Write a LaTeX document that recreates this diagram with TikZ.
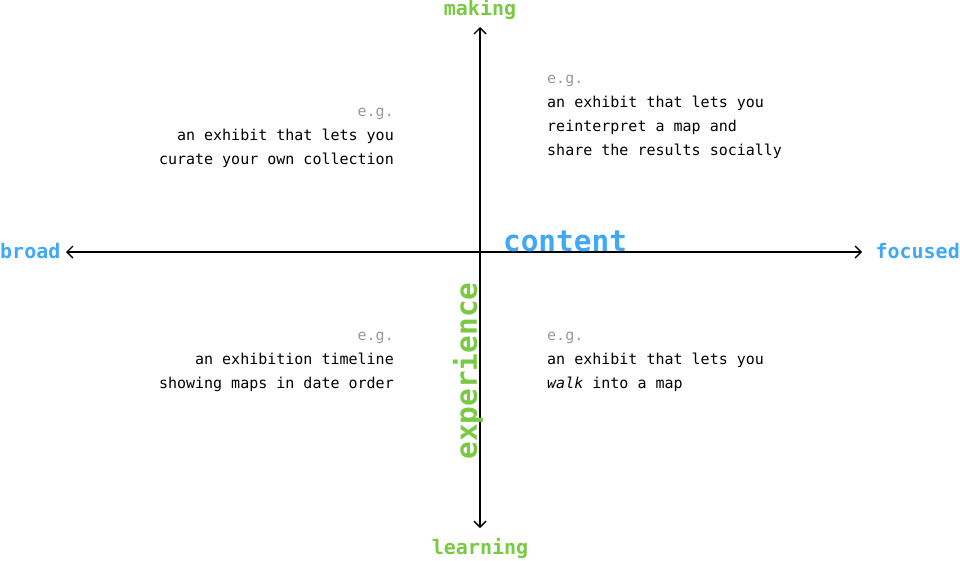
\documentclass[tikz,border=0pt]{standalone}
\usepackage{fontspec}
\setmonofont{DejaVu Sans Mono}
\usetikzlibrary{arrows.meta}
\definecolor{axisblue}{HTML}{3FA9F5}
\definecolor{axisgreen}{HTML}{7AC943}
\definecolor{eggray}{HTML}{999999}
\tikzset{
  axis/.style={line width=1.4pt, draw=black, {Straight Barb[length=6pt,width=12pt]}-{Straight Barb[length=6pt,width=12pt]}},
  example/.style={inner sep=0pt, font=\ttfamily\fontsize{15}{24}\selectfont},
  blueend/.style={inner sep=0pt, text=axisblue, font=\ttfamily\bfseries\fontsize{20}{20}\selectfont},
  greenend/.style={inner sep=0pt, text=axisgreen, font=\ttfamily\bfseries\fontsize{20}{20}\selectfont},
}
\begin{document}
\begin{tikzpicture}[x=1pt, y=-1pt]
\useasboundingbox (0,0) rectangle (960,560);
\node[blueend, anchor=west] (broad) at (0,251) {broad};
\node[blueend, anchor=east] (focused) at (960,251) {focused};
\node[greenend] (making) at (480,9) {making};
\node[greenend] (learning) at (480,548) {learning};
\coordinate (W) at (66,252);
\coordinate (E) at (862,252);
\coordinate (N) at (480,27);
\coordinate (S) at (480,528);
\draw[axis] (W) -- (E);
\draw[axis] (S) -- (N);
\node[inner sep=0pt, text=axisblue, font=\ttfamily\bfseries\fontsize{29.4}{30}\selectfont] (content) at (565,241) {content};
\node[inner sep=0pt, text=axisgreen, rotate=90, font=\ttfamily\bfseries\fontsize{29.4}{30}\selectfont] (experience) at (468,371) {experience};
% quadrant examples (anchored on the last line)
\node[example, anchor=base west, align=left] (topright) at (547,155) {\textcolor{eggray}{e.g.}\\an exhibit that lets you\\reinterpret a map and\\share the results socially};
\node[example, anchor=base east, align=right] (topleft) at (394,164) {\textcolor{eggray}{e.g.}\\an exhibit that lets you\\curate your own collection};
\node[example, anchor=base east, align=right] (bottomleft) at (394,388) {\textcolor{eggray}{e.g.}\\an exhibition timeline\\showing maps in date order};
\node[example, anchor=base west, align=left] (bottomright) at (547,388) {\textcolor{eggray}{e.g.}\\an exhibit that lets you\\\textit{walk} into a map};
\end{tikzpicture}
\end{document}
